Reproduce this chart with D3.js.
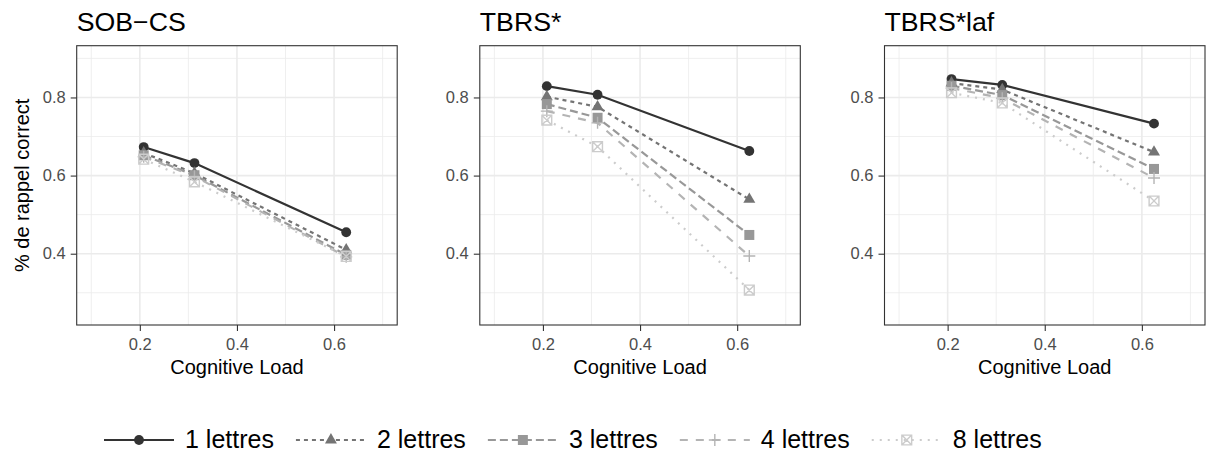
<!DOCTYPE html>
<html>
<head>
<meta charset="utf-8">
<script src="https://cdn.jsdelivr.net/npm/d3@7"></script>
<style>
  html, body { margin: 0; padding: 0; background: #ffffff; }
  svg { display: block; font-family: "Liberation Sans", Arial, Helvetica, sans-serif; }
</style>
</head>
<body>
<svg id="chart" width="1209" height="462"></svg>
<script>
// ---- data ----
const cognitiveLoad = [0.208, 0.3125, 0.625];
const panelTitles = ["SOB−CS", "TBRS*", "TBRS*laf"];
const seriesNames = ["1 lettres", "2 lettres", "3 lettres", "4 lettres", "8 lettres"];

// proportion of correct recall, one row per list length
const sobcsRecall = [
  [0.673, 0.632, 0.455],
  [0.658, 0.606, 0.410],
  [0.652, 0.601, 0.397],
  [0.648, 0.598, 0.392],
  [0.642, 0.584, 0.393]
];
const tbrsRecall = [
  [0.829, 0.807, 0.663],
  [0.802, 0.776, 0.539],
  [0.783, 0.748, 0.448],
  [0.765, 0.735, 0.394],
  [0.742, 0.674, 0.307]
];
const tbrsLafRecall = [
  [0.847, 0.832, 0.733],
  [0.837, 0.820, 0.660],
  [0.830, 0.806, 0.617],
  [0.824, 0.798, 0.594],
  [0.812, 0.786, 0.535]
];
const panelData = [sobcsRecall, tbrsRecall, tbrsLafRecall];

const xMajorTicks = [0.2, 0.4, 0.6];
const xMinorTicks = [0.1, 0.3, 0.5, 0.7];
const yMajorTicks = [0.4, 0.6, 0.8];
const yMinorTicks = [0.3, 0.5, 0.7, 0.9];
const xTitle = "Cognitive Load";
const yTitle = "% de rappel correct";

// ---- styling ----
const seriesColors = ["#333333", "#747474", "#989898", "#b4b4b4", "#cccccc"];
const seriesDash = [null, "4,4", "8,4", "8,8", "2,6"];
const seriesShape = ["circle", "triangle", "square", "plus", "boxcross"];

const svg = d3.select("#chart");
const panelLefts = [76.7, 479.8, 884.5];
const panelWidth = 320.5;
const panelTop = 45.7, panelBottom = 325;

function shapePath(kind) {
  if (kind === "circle") return d3.symbol(d3.symbolCircle, 76)();
  if (kind === "triangle") return d3.symbol(d3.symbolTriangle, 62)();
  if (kind === "square") return d3.symbol(d3.symbolSquare, 100)();
  if (kind === "plus") return "M-6,0H6M0,-6V6";
  return "M-4.9,-4.9H4.9V4.9H-4.9Z M-4.9,-4.9L4.9,4.9 M4.9,-4.9L-4.9,4.9";
}

function drawMarker(g, kind, color) {
  const filled = kind === "circle" || kind === "triangle" || kind === "square";
  g.append("path")
    .attr("d", shapePath(kind))
    .attr("fill", filled ? color : "none")
    .attr("stroke", filled ? "none" : color)
    .attr("stroke-width", filled ? 0 : 1.4);
}

panelData.forEach((rows, p) => {
  const left = panelLefts[p];
  const x = d3.scaleLinear().domain([0.07, 0.73]).range([left, left + panelWidth]);
  const y = d3.scaleLinear().domain([0.2175, 0.9325]).range([panelBottom, panelTop]);
  const g = svg.append("g");

  // grid
  g.selectAll(".xminor").data(xMinorTicks).join("line")
    .attr("x1", d => x(d)).attr("x2", d => x(d))
    .attr("y1", panelTop).attr("y2", panelBottom)
    .attr("stroke", "#ebebeb").attr("stroke-width", 0.8);
  g.selectAll(".yminor").data(yMinorTicks).join("line")
    .attr("y1", d => y(d)).attr("y2", d => y(d))
    .attr("x1", left).attr("x2", left + panelWidth)
    .attr("stroke", "#ebebeb").attr("stroke-width", 0.8);
  g.selectAll(".xmajor").data(xMajorTicks).join("line")
    .attr("x1", d => x(d)).attr("x2", d => x(d))
    .attr("y1", panelTop).attr("y2", panelBottom)
    .attr("stroke", "#ebebeb").attr("stroke-width", 1.6);
  g.selectAll(".ymajor").data(yMajorTicks).join("line")
    .attr("y1", d => y(d)).attr("y2", d => y(d))
    .attr("x1", left).attr("x2", left + panelWidth)
    .attr("stroke", "#ebebeb").attr("stroke-width", 1.6);

  // axes
  const xAxis = d3.axisBottom(x).tickValues(xMajorTicks).tickSize(6).tickPadding(7)
    .tickFormat(d3.format(".1f"));
  const yAxis = d3.axisLeft(y).tickValues(yMajorTicks).tickSize(6).tickPadding(5)
    .tickFormat(d3.format(".1f"));
  const gx = g.append("g").attr("transform", `translate(0,${panelBottom})`).call(xAxis);
  const gy = g.append("g").attr("transform", `translate(${left},0)`).call(yAxis);
  [gx, gy].forEach(a => {
    a.select(".domain").remove();
    a.selectAll(".tick line").attr("stroke", "#333333").attr("stroke-width", 1.1);
    a.selectAll(".tick text").attr("fill", "#4d4d4d")
      .style("font-size", "16.5px").style("font-family", "Liberation Sans, Arial, sans-serif");
  });

  // lines
  const line = d3.line().x((d, i) => x(cognitiveLoad[i])).y(d => y(d));
  rows.forEach((vals, s) => {
    g.append("path")
      .attr("d", line(vals))
      .attr("fill", "none")
      .attr("stroke", seriesColors[s])
      .attr("stroke-width", 2.2)
      .attr("stroke-dasharray", seriesDash[s]);
  });

  // points
  rows.forEach((vals, s) => {
    vals.forEach((v, i) => {
      const mg = g.append("g").attr("transform", `translate(${x(cognitiveLoad[i])},${y(v)})`);
      drawMarker(mg, seriesShape[s], seriesColors[s]);
    });
  });

  // panel border
  g.append("rect")
    .attr("x", left).attr("y", panelTop)
    .attr("width", panelWidth).attr("height", panelBottom - panelTop)
    .attr("fill", "none").attr("stroke", "#333333").attr("stroke-width", 1.1);

  // titles
  g.append("text").attr("x", left).attr("y", 31)
    .style("font-size", "26.7px").attr("fill", "#000").text(panelTitles[p]);
  g.append("text").attr("x", left + panelWidth / 2).attr("y", 374)
    .attr("text-anchor", "middle").style("font-size", "20px").attr("fill", "#000")
    .text(xTitle);
  if (p === 0) {
    g.append("text")
      .attr("transform", `translate(29,${(panelTop + panelBottom) / 2}) rotate(-90)`)
      .attr("text-anchor", "middle").style("font-size", "20px").attr("fill", "#000")
      .text(yTitle);
  }
});

// ---- legend ----
const legend = svg.append("g");
const keyWidth = 70, keyGap = 11, itemGap = 22, legendY = 440;
let cursor = 104;
seriesNames.forEach((name, s) => {
  const item = legend.append("g").attr("transform", `translate(${cursor},0)`);
  item.append("line")
    .attr("x1", 0).attr("x2", keyWidth)
    .attr("y1", legendY).attr("y2", legendY)
    .attr("stroke", seriesColors[s]).attr("stroke-width", 2.2)
    .attr("stroke-dasharray", seriesDash[s]);
  const mg = item.append("g").attr("transform", `translate(${keyWidth / 2},${legendY})`);
  drawMarker(mg, seriesShape[s], seriesColors[s]);
  const t = item.append("text")
    .attr("x", keyWidth + keyGap).attr("y", 447.5)
    .style("font-size", "25px").attr("fill", "#000").text(name);
  cursor += keyWidth + keyGap + t.node().getComputedTextLength() + itemGap;
});
</script>
</body>
</html>
